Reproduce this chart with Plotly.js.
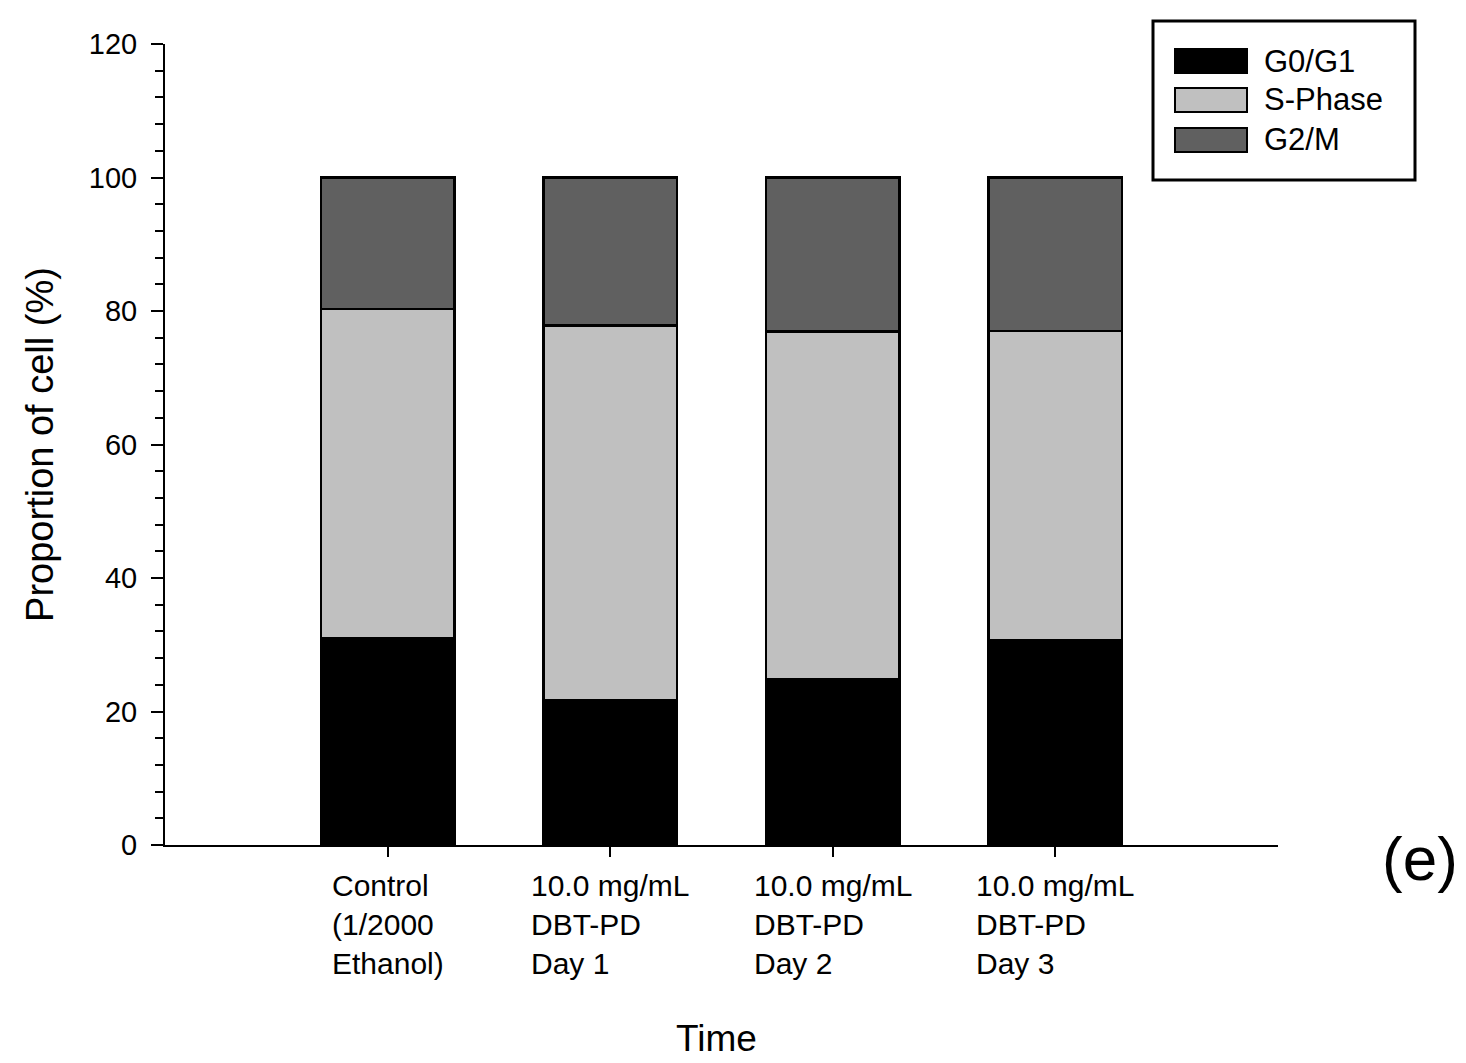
<!DOCTYPE html>
<html>
<head>
<meta charset="utf-8">
<script src="https://cdn.plot.ly/plotly-3.0.1.min.js"></script>
<style>html,body{margin:0;padding:0;background:#fff;}#chart{width:1466px;height:1063px;}</style>
</head>
<body>
<div id="chart"></div>
<script>
const categories = ['Control<br>(1/2000<br>Ethanol)', '10.0 mg/mL<br>DBT-PD<br>Day 1', '10.0 mg/mL<br>DBT-PD<br>Day 2', '10.0 mg/mL<br>DBT-PD<br>Day 3'];
const seriesNames = ['G0/G1', 'S-Phase', 'G2/M'];
const g0g1 = [31.0, 21.7, 24.9, 30.7];
const sPhase = [49.3, 56.1, 52.0, 46.3];
const g2m = [19.7, 22.2, 23.1, 23.0];
const colors = ['#000000', '#c0c0c0', '#606060'];
const seriesValues = [g0g1, sPhase, g2m];

const FONT = 'Liberation Sans, Arial, sans-serif';
// plot area in pixels
const L = 165, R = 1278, T = 44, B = 845;
const px = v => (v - L) / (R - L);
const py = v => (B - v) / (B - T);

const traces = seriesValues.map((vals, i) => ({
  type: 'bar',
  x: categories,
  y: vals,
  name: seriesNames[i],
  width: 0.6,
  marker: {color: colors[i], line: {color: '#000', width: 2.5}},
  showlegend: false,
  hoverinfo: 'y+name'
}));

const shapes = [
  {type: 'rect', xref: 'paper', yref: 'paper', x0: px(1153), x1: px(1415), y0: py(180), y1: py(21),
   line: {color: '#000', width: 3}, fillcolor: 'rgba(0,0,0,0)'}
];
const annotations = [];
const rowCenters = [61, 100, 140];
seriesNames.forEach((n, i) => {
  shapes.push({type: 'rect', xref: 'paper', yref: 'paper', x0: px(1175), x1: px(1247),
    y0: py(rowCenters[i] + 12), y1: py(rowCenters[i] - 12), fillcolor: colors[i], line: {color: '#000', width: 2}});
  annotations.push({xref: 'paper', yref: 'paper', x: px(1262), y: py(rowCenters[i]), xanchor: 'left', yanchor: 'middle',
    text: n, showarrow: false, font: {family: FONT, size: 31, color: '#000'}});
});
categories.forEach((c, i) => {
  annotations.push({xref: 'x', yref: 'paper', x: c, y: 0, yshift: -22, xanchor: 'center', yanchor: 'top',
    align: 'left', text: c, showarrow: false, font: {family: FONT, size: 30, color: '#000'}});
});
annotations.push({xref: 'paper', yref: 'paper', x: px(716), y: py(1038), xanchor: 'center', yanchor: 'middle',
  text: 'Time', showarrow: false, font: {family: FONT, size: 37, color: '#000'}});
annotations.push({xref: 'paper', yref: 'paper', x: px(1420), y: py(858), xanchor: 'center', yanchor: 'middle',
  text: '(e)', showarrow: false, font: {family: FONT, size: 62, color: '#000'}});

const layout = {
  width: 1466, height: 1063,
  margin: {l: L, r: 1466 - R, t: T, b: 1063 - B},
  paper_bgcolor: '#fff', plot_bgcolor: '#fff',
  barmode: 'stack',
  font: {family: FONT, color: '#000'},
  xaxis: {
    type: 'category', range: [-1.0, 4.0], showgrid: false, zeroline: false,
    showline: true, linecolor: '#000', linewidth: 2,
    ticks: 'outside', ticklen: 10, tickwidth: 2, tickcolor: '#000',
    showticklabels: false
  },
  yaxis: {
    range: [0, 120], showgrid: false, zeroline: false,
    showline: true, linecolor: '#000', linewidth: 2,
    ticks: 'outside', ticklen: 12, tickwidth: 2, tickcolor: '#000', dtick: 20,
    tickfont: {family: FONT, size: 29, color: '#000'}, ticklabelstandoff: 8,
    minor: {dtick: 4, ticks: 'outside', ticklen: 8, tickwidth: 2, tickcolor: '#000', showgrid: false},
    title: {text: 'Proportion of cell (%)', font: {family: FONT, size: 38, color: '#000'}, standoff: 24}
  },
  shapes: shapes,
  annotations: annotations,
  showlegend: false
};

Plotly.newPlot('chart', traces, layout, {displayModeBar: false, staticPlot: true});
</script>
</body>
</html>
